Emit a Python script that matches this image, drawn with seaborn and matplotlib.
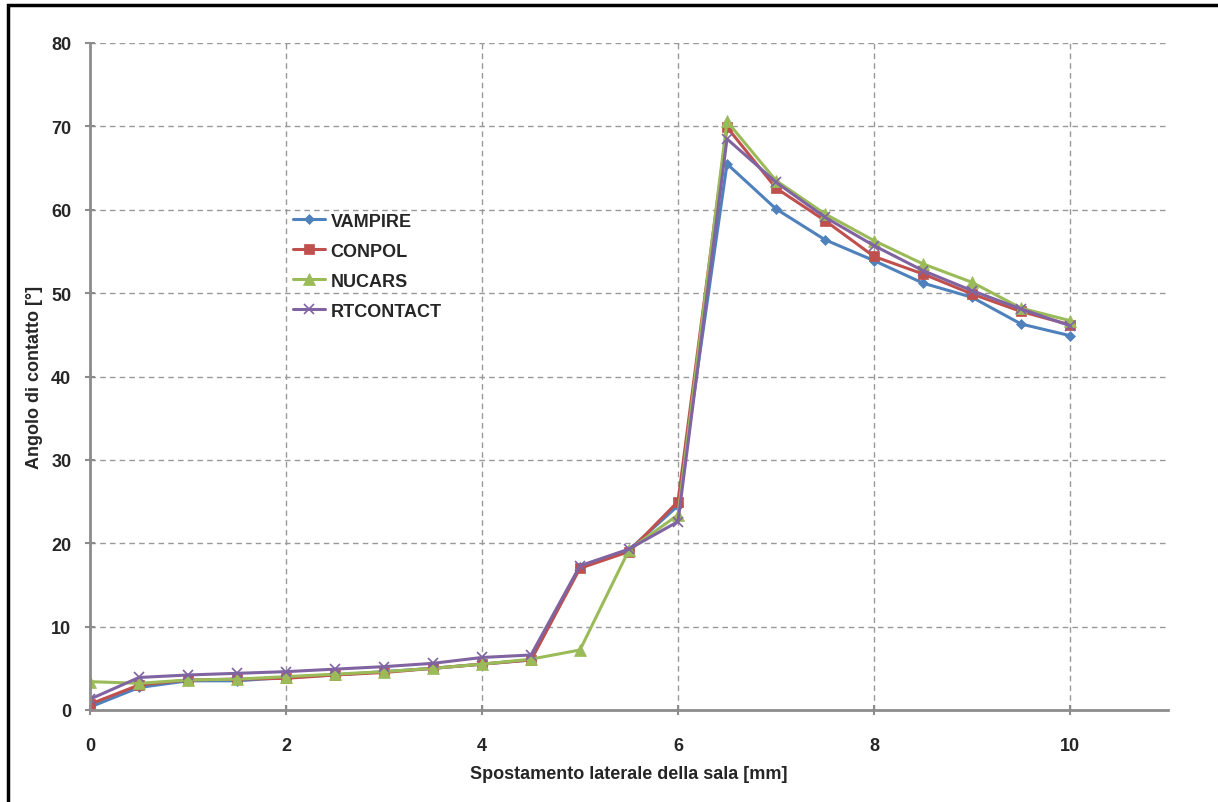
import matplotlib
matplotlib.use("Agg")
import matplotlib.pyplot as plt
import seaborn as sns
import pandas as pd
from matplotlib.patches import Rectangle

x_mm = [0, 0.5, 1, 1.5, 2, 2.5, 3, 3.5, 4, 4.5, 5, 5.5, 6, 6.5, 7, 7.5, 8, 8.5, 9, 9.5, 10]
vampire = [0.35, 2.7, 3.5, 3.5, 3.9, 4.2, 4.6, 5.0, 5.5, 6.0, 17.2, 19.2, 24.5, 65.5, 60.1, 56.4, 53.9, 51.2, 49.5, 46.3, 44.9]
conpol = [0.7, 3.0, 3.6, 3.7, 3.8, 4.2, 4.5, 5.0, 5.5, 6.0, 17.0, 19.0, 25.0, 69.9, 62.6, 58.7, 54.4, 52.3, 49.9, 47.8, 46.2]
nucars = [3.4, 3.2, 3.6, 3.7, 4.0, 4.3, 4.6, 5.0, 5.5, 6.1, 7.2, 19.2, 23.4, 70.6, 63.5, 59.5, 56.3, 53.5, 51.3, 48.2, 46.7]
rtcontact = [1.3, 3.9, 4.2, 4.4, 4.6, 4.9, 5.2, 5.6, 6.3, 6.6, 17.3, 19.3, 22.6, 68.5, 63.3, 59.1, 55.7, 52.7, 50.3, 48.1, 46.1]

series_names = ["VAMPIRE", "CONPOL", "NUCARS", "RTCONTACT"]
series_values = [vampire, conpol, nucars, rtcontact]
colors = ["#4F81BD", "#C0504D", "#9BBB59", "#8064A2"]
markers = ["D", "s", "^", "x"]
msizes = [5, 7, 8, 7]

x_ticks = [0, 2, 4, 6, 8, 10]
y_ticks = [0, 10, 20, 30, 40, 50, 60, 70, 80]

rows = []
for name, vals in zip(series_names, series_values):
    for xv, yv in zip(x_mm, vals):
        rows.append({"x": xv, "y": yv, "Serie": name})
df = pd.DataFrame(rows)

sns.set_theme(style="white")
plt.rcParams['font.family'] = ['Liberation Sans', 'DejaVu Sans']

fig = plt.figure(figsize=(12.18, 8.03), dpi=100)
ax = fig.add_axes([90/1218, 1 - 711/803, (1168-90)/1218, (711-44)/803])

for name, c, m, ms in zip(series_names, colors, markers, msizes):
    sub = df[df["Serie"] == name]
    sns.lineplot(data=sub, x="x", y="y", ax=ax, color=c, marker=m, markersize=ms,
                 markeredgecolor=c, markeredgewidth=1.2 if m == "x" else 0.5,
                 linewidth=2.2, label=name, estimator=None, sort=False)

ax.set_xlim(0, 11)
ax.set_ylim(0, 80)
ax.set_xticks(x_ticks)
ax.set_yticks(y_ticks)
ax.set_xticklabels([str(t) for t in x_ticks], fontsize=13, fontweight='bold')
ax.set_yticklabels([str(t) for t in y_ticks], fontsize=13, fontweight='bold')
ax.grid(True, color="#999999", linestyle=(0, (4, 3)), linewidth=1)
for s in ["top", "right"]:
    ax.spines[s].set_visible(False)
for s in ["left", "bottom"]:
    ax.spines[s].set_color("#8c8c8c")
    ax.spines[s].set_linewidth(2)
ax.tick_params(axis='both', which='both', direction='inout', length=7, width=1.5,
               color="#8c8c8c", left=True, bottom=True, pad=10)
ax.tick_params(axis='x', pad=16)
ax.set_xlabel("Spostamento laterale della sala [mm]", fontsize=13, fontweight='bold', labelpad=8)
ax.set_ylabel("Angolo di contatto [°]", fontsize=13, fontweight='bold', labelpad=6)

leg = ax.legend(loc="upper left", bbox_to_anchor=(0.173, 0.77), frameon=False,
                prop={'weight': 'bold', 'size': 13}, handlelength=1.8,
                labelspacing=0.72, handletextpad=0.3)

fig.patches.append(Rectangle((8/1218, -0.1), 1.2, (1 - 6/803) + 0.1, transform=fig.transFigure,
                             fill=False, edgecolor="black", linewidth=2.5))

fig.savefig("out.png", dpi=100, facecolor="white")
